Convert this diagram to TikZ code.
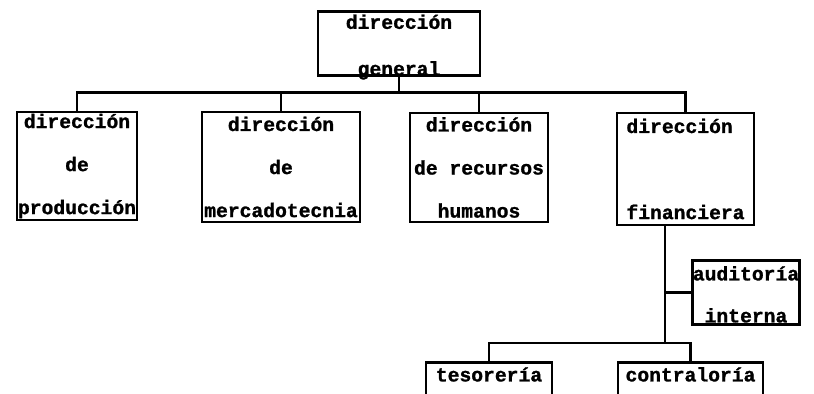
\documentclass[tikz,border=0pt]{standalone}
\usepackage{fontspec}
\newfontfamily\orgfont{Liberation Mono}[UprightFont={* Bold}, FakeBold=1.2]
\tikzset{
unit/.style={draw, line width=1.6pt, inner sep=0pt, align=center},
org/.style={unit, font=\fontsize{11.2pt}{#1}\selectfont\orgfont},
org/.default=24.5pt,
link/.style={line width=1.5pt}
}

\begin{document}
\begin{tikzpicture}[x=0.02cm,y=-0.02cm]
\useasboundingbox (0,0) rectangle (814,394);
\clip (0,0) rectangle (814,394);
% top level
\node[org=26.5pt, anchor=north, text height=1.28cm, text depth=0cm, minimum width=3.24cm] (gen) at (399,10) {dirección\\general};
% directions
\node[org, minimum width=2.4cm, minimum height=2.16cm] (prod) at (77,166) {dirección\\de\\producción};
\node[org, minimum width=3.16cm, minimum height=2.2cm] (merc) at (281,167) {dirección\\de\\mercadotecnia};
\node[org, minimum width=2.76cm, minimum height=2.18cm] (rh) at (479,167.5) {dirección\\de recursos\\humanos};
\node[org, align=left, minimum width=2.74cm, minimum height=2.24cm] (fin) at (685.5,169) {dirección\\[24.5pt]financiera};
% finance departments
\node[org=23.9pt, anchor=north, text height=1.24cm, text depth=0.04cm, minimum width=2.12cm] (aud) at (746,259) {auditoría\\interna};
\node[org, anchor=north, text height=0.38cm, text depth=1.2cm, minimum width=2.52cm] (tes) at (489,361) {tesorería};
\node[org, anchor=north, text height=0.38cm, text depth=1.2cm, minimum width=2.9cm] (con) at (690.5,361) {contraloría};

\draw[link] (gen.south) -- ++(0,16) coordinate (top);
\draw[link] (prod.north) |- (top) -| (fin.north);
\draw[link] (merc.north) -- (merc.north |- top);
\draw[link] (rh.north) -- (rh.north |- top);

\coordinate (fork) at (665,343);
\draw[link] (fin.south -| fork) -- (fork);
\draw[link] (fork |- aud.west) -- (aud.west);
\draw[link] (tes.north) |- (fork) -| (con.north);
\end{tikzpicture}
\end{document}
